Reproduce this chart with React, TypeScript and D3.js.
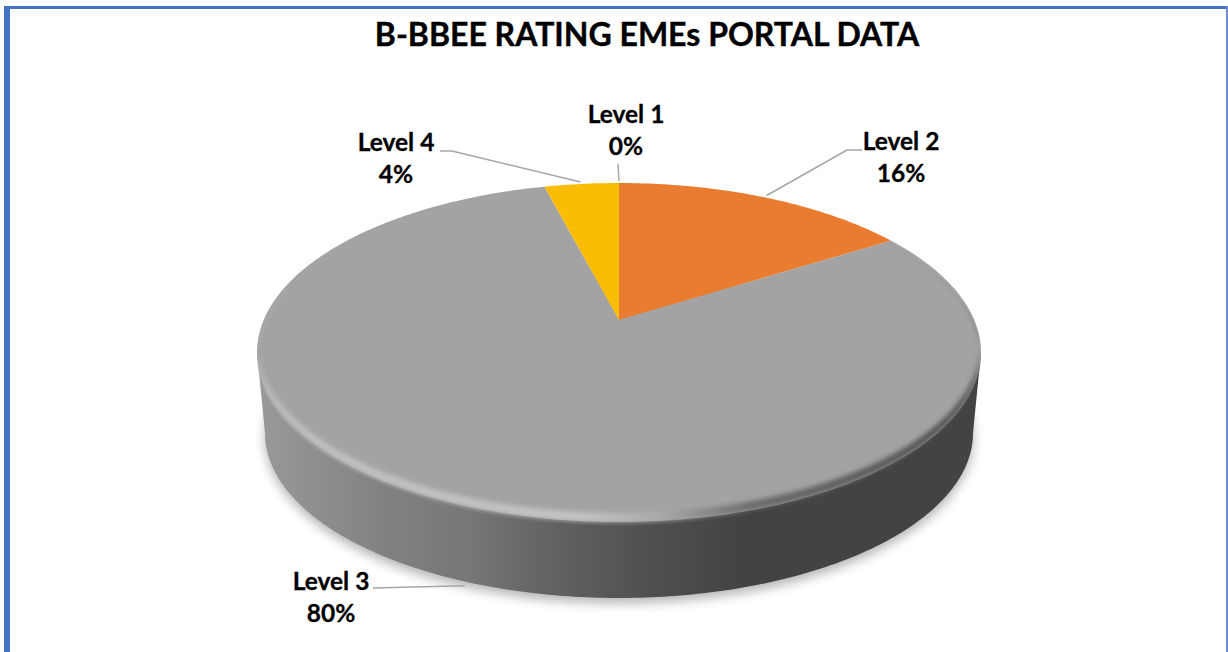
import * as d3 from "d3";

const WIDTH = 1228;
const HEIGHT = 652;

const title = "B-BBEE RATING EMEs PORTAL DATA";
const categories = ["Level 1", "Level 2", "Level 3", "Level 4"];
const shares = [0, 16, 80, 4];
const colors = ["#4472c4", "#ea7c30", "#a3a3a3", "#fbbc04"];

// label placement per category: text centre, first baseline, leader elbows, leader end nudge
const labelPos = [
	{ x: 626, y: 123, elbow: [[618, 164]], nudge: [0, -2] },
	{ x: 901, y: 150, elbow: [[862, 150], [847, 150]], nudge: [1, -2] },
	{ x: 331, y: 590, elbow: [[373, 588]], nudge: [5, 81] },
	{ x: 396, y: 151, elbow: [[440, 151], [452, 151]], nudge: [-1, -2] }
];

// disc seen in perspective: slice apex sits above the middle of the ellipse
const cx = 619;
const persp = -0.1917;
const yNear = 101.9;
const yMid = 320;
const xSpread = 355.3;

const project = (a: number): [number, number] => {
	const u = Math.sin(a);
	const v = -Math.cos(a);
	const w = 1 + persp * v;
	return [cx + (xSpread * u) / w, (yNear * v + yMid) / w];
};

// the lower rim of the wall is a plain ellipse
const base = { cy: 433, rx: 354, ry: 165 };
const baseRim = (a: number): [number, number] => [
	cx + base.rx * Math.sin(a),
	base.cy - base.ry * Math.cos(a)
];

const line = d3.line();
const TAU = Math.PI * 2;
const samples = (a0: number, a1: number) => {
	const n = Math.max(2, Math.ceil(Math.abs(a1 - a0) * 60));
	return d3.range(n + 1).map(i => a0 + ((a1 - a0) * i) / n);
};

const slices = d3.pie<number>().sort(null)(shares);

const sliceD = (a0: number, a1: number) =>
	line([[cx, yMid], ...samples(a0, a1).map(project)]) + "Z";

const discPts = samples(0, TAU).map(project);
const discD = line(discPts) + "Z";
const raisedD = line(discPts.map(([x, y]) => [x, y - 9] as [number, number])) + "Z";

// widest point of the disc, where the wall starts
const leftA = d3.greatest(samples(Math.PI, TAU), a => -project(a)[0]) as number;
const rightA = d3.greatest(samples(0, Math.PI), a => project(a)[0]) as number;
const wallD =
	line([
		project(leftA),
		...samples(-Math.PI / 2, -Math.PI * 1.5).map(baseRim),
		project(rightA)
	]) + "Z";
const baseD = line(samples(0, TAU).map(baseRim)) + "Z";

const fontFamily = "Lato, 'Open Sans', sans-serif";

export default function App() {
	return (
		<svg
			width={WIDTH}
			height={HEIGHT}
			viewBox={`0 0 ${WIDTH} ${HEIGHT}`}
			style={{ position: "absolute", left: 0, top: 0, background: "#fff" }}
		>
			<defs>
				<linearGradient id="wall" gradientUnits="userSpaceOnUse" x1={257} x2={981} y1={0} y2={0}>
					<stop offset="0" stopColor="#9a9a9a" />
					<stop offset="0.17" stopColor="#828282" />
					<stop offset="0.3" stopColor="#767676" />
					<stop offset="0.42" stopColor="#606060" />
					<stop offset="0.53" stopColor="#515151" />
					<stop offset="0.67" stopColor="#434343" />
					<stop offset="1" stopColor="#434343" />
				</linearGradient>
				<linearGradient id="bevel" gradientUnits="userSpaceOnUse" x1={257} x2={981} y1={0} y2={0}>
					<stop offset="0" stopColor="#c0c0c0" />
					<stop offset="0.45" stopColor="#c4c4c4" />
					<stop offset="0.56" stopColor="#a8a8a8" />
					<stop offset="0.68" stopColor="#6a6a6a" />
					<stop offset="1" stopColor="#4c4c4c" />
				</linearGradient>
				<filter id="soft" x="-5%" y="-5%" width="110%" height="110%">
					<feGaussianBlur stdDeviation="2.6" />
				</filter>
				<filter id="shadow" x="-10%" y="-10%" width="120%" height="120%">
					<feGaussianBlur stdDeviation="6" />
				</filter>
				<clipPath id="discClip">
					<path d={discD} transform="translate(0,4)" />
				</clipPath>
			</defs>

			<rect x={4} y={6} width={6} height={HEIGHT - 6} fill="#4472c4" />
			<rect x={4} y={6} width={WIDTH - 4} height={3} fill="#4472c4" />
			<rect x={1226} y={6} width={2} height={HEIGHT - 6} fill="#6d8fce" />

			<text
				x={647}
				y={46}
				textAnchor="middle"
				fontFamily={fontFamily}
				fontWeight={700}
				fontSize={32}
				fill="#000"
				stroke="#000"
				strokeWidth={0.4}
			>
				{title}
			</text>

			<path d={baseD} fill="#000" opacity={0.3} transform="translate(0,5)" filter="url(#shadow)" />
			<path d={wallD} fill="url(#wall)" />

			{slices.map((s, i) => (
				<path key={categories[i]} d={sliceD(s.startAngle, s.endAngle)} fill={colors[i]} />
			))}

			<g clipPath="url(#discClip)">
				<path d={discD + raisedD} fillRule="evenodd" fill="url(#bevel)" filter="url(#soft)" />
			</g>

			{slices.map((s, i) => {
				const mid = (s.startAngle + s.endAngle) / 2;
				const [rx, ry] = project(mid);
				const pos = labelPos[i];
				const pts = [...pos.elbow, [rx + pos.nudge[0], ry + pos.nudge[1]]] as [number, number][];
				return (
					<path key={categories[i]} d={line(pts) as string} fill="none" stroke="#a6a6a6" strokeWidth={1.5} />
				);
			})}

			{categories.map((c, i) => (
				<text
					key={c}
					x={labelPos[i].x}
					y={labelPos[i].y}
					textAnchor="middle"
					fontFamily={fontFamily}
					fontWeight={700}
					fontSize={24.5}
					fill="#000"
					stroke="#000"
					strokeWidth={0.3}
				>
					<tspan x={labelPos[i].x}>{c}</tspan>
					<tspan x={labelPos[i].x} dy={32}>{`${shares[i]}%`}</tspan>
				</text>
			))}
		</svg>
	);
}
